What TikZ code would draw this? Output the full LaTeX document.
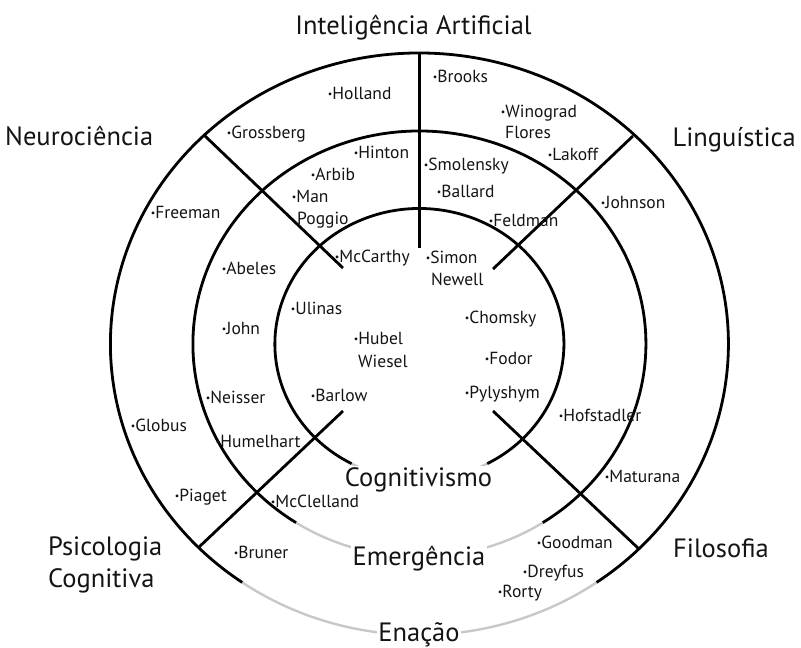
\documentclass[tikz,border=0pt]{standalone}
\usepackage{fontspec}
\setmainfont{PT Sans}
\definecolor{fadegray}{RGB}{200,200,200}
\definecolor{inkblack}{RGB}{20,20,20}
% small bullet placed before each author name
\newcommand\authdot{{\fontsize{10}{10}\selectfont\raisebox{1.6pt}{•}}}
\begin{document}
\begin{tikzpicture}[x=1pt,y=1pt,
  ring/.style={line width=2.8pt, draw=black},
  ringfaded/.style={line width=2.4pt, draw=fadegray},
  spoke/.style={line width=2.8pt, draw=black},
  person/.style={inner sep=0pt, anchor=base west, text=inkblack,
    font=\fontsize{17.5}{20}\selectfont},
  fieldlbl/.style={inner sep=0pt, text=inkblack,
    font=\fontsize{26.5}{30}\selectfont},
  tierlbl/.style={fieldlbl, anchor=base, fill=white, inner sep=1.5pt}]
\useasboundingbox (0,0) rectangle (801,-648);

\coordinate (ctr) at (419.4,-344);

% three rings: faded lower part, black remainder
\draw[ringfaded] (ctr) ++(235:309 and 291) arc[start angle=235, end angle=305, x radius=309, y radius=291];
\draw[ring] (ctr) ++(-55:309 and 291) arc[start angle=-55, end angle=235, x radius=309, y radius=291];
\draw[ringfaded] (ctr) ++(237:226.5 and 213) arc[start angle=237, end angle=303, x radius=226.5, y radius=213];
\draw[ring] (ctr) ++(-57:226.5 and 213) arc[start angle=-57, end angle=237, x radius=226.5, y radius=213];
\draw[ringfaded] (ctr) ++(242:144.5 and 135.5) arc[start angle=242, end angle=298, x radius=144.5, y radius=135.5];
\draw[ring] (ctr) ++(-62:144.5 and 135.5) arc[start angle=-62, end angle=242, x radius=144.5, y radius=135.5];

% spokes separating the disciplines
\coordinate (topOut) at (419.4,-53);  \coordinate (topIn) at (419.4,-248);
\coordinate (nwOut) at (205,-136);    \coordinate (nwIn) at (343,-268);
\coordinate (neOut) at (633,-136);    \coordinate (neIn) at (493,-269);
\coordinate (swOut) at (198,-548);    \coordinate (swIn) at (343,-411);
\coordinate (seOut) at (639,-549);    \coordinate (seIn) at (493,-411);
\draw[spoke] (topOut) -- (topIn);
\draw[spoke] (nwOut) -- (nwIn);
\draw[spoke] (neOut) -- (neIn);
\draw[spoke] (swOut) -- (swIn);
\draw[spoke] (seOut) -- (seIn);

% disciplines
\node[fieldlbl, anchor=base] (ia) at (413.5,-34) {Inteligência Artificial};
\node[fieldlbl, anchor=base west] (neuro) at (5,-145.6) {Neurociência};
\node[fieldlbl, anchor=base east] (ling) at (796,-146) {Linguística};
\node[fieldlbl, anchor=base west] (psiA) at (48,-555) {Psicologia};
\node[fieldlbl, anchor=base west] (psiB) at (48,-587) {Cognitiva};
\node[fieldlbl, anchor=base west] (filo) at (673,-557) {Filosofia};

% paradigms on the rings
\node[tierlbl] (cog) at (418.5,-486.7) {Cognitivismo};
\node[tierlbl] (emer) at (419,-565) {Emergência};
\node[tierlbl] (enac) at (419,-641.5) {Enação};

% authors
\node[person] (brooks) at (432.7,-82.5) {\authdot Brooks};
\node[person] (holland) at (327.7,-99.5) {\authdot Holland};
\node[person] (winograd) at (500.7,-117.5) {\authdot Winograd};
\node[person] (flores) at (505,-138.5) {Flores};
\node[person] (grossberg) at (226.7,-138.5) {\authdot Grossberg};
\node[person] (lakoff) at (547.7,-160.5) {\authdot Lakoff};
\node[person] (hinton) at (353.7,-158.5) {\authdot Hinton};
\node[person] (smolensky) at (423.7,-170.5) {\authdot Smolensky};
\node[person] (arbib) at (310.7,-180.5) {\authdot Arbib};
\node[person] (ballard) at (436.7,-197.5) {\authdot Ballard};
\node[person] (man) at (291.7,-202.5) {\authdot Man};
\node[person] (poggio) at (297,-224.5) {Poggio};
\node[person] (johnson) at (600.7,-208.5) {\authdot Johnson};
\node[person] (freeman) at (150.7,-218.5) {\authdot Freeman};
\node[person] (feldman) at (488.7,-226.5) {\authdot Feldman};
\node[person] (mccarthy) at (334.7,-262.5) {\authdot McCarthy};
\node[person] (simon) at (425.7,-263.5) {\authdot Simon};
\node[person] (newell) at (431,-285.5) {Newell};
\node[person] (abeles) at (221.7,-274.5) {\authdot Abeles};
\node[person] (ulinas) at (290.7,-314.5) {\authdot Ulinas};
\node[person] (chomsky) at (464.7,-323.5) {\authdot Chomsky};
\node[person] (john) at (221.7,-334.5) {\authdot John};
\node[person] (hubel) at (353.7,-344.5) {\authdot Hubel};
\node[person] (wiesel) at (358,-367) {Wiesel};
\node[person] (fodor) at (484.7,-364.5) {\authdot Fodor};
\node[person] (pylyshym) at (464.7,-398.5) {\authdot Pylyshym};
\node[person] (barlow) at (310.7,-401.5) {\authdot Barlow};
\node[person] (neisser) at (205.7,-403.5) {\authdot Neisser};
\node[person] (hofstadler) at (558.7,-421.5) {\authdot Hofstadler};
\node[person] (globus) at (130.7,-431.5) {\authdot Globus};
\node[person] (humelhart) at (215.7,-447.5) {\authdot Humelhart};
\node[person] (maturana) at (604.7,-482.5) {\authdot Maturana};
\node[person] (piaget) at (174.7,-501.5) {\authdot Piaget};
\node[person] (mcclelland) at (270.7,-507.5) {\authdot McClelland};
\node[person] (goodman) at (536.7,-548.5) {\authdot Goodman};
\node[person] (bruner) at (233.7,-558.5) {\authdot Bruner};
\node[person] (dreyfus) at (522.7,-577.5) {\authdot Dreyfus};
\node[person] (rorty) at (497.7,-597.5) {\authdot Rorty};
\end{tikzpicture}
\end{document}
